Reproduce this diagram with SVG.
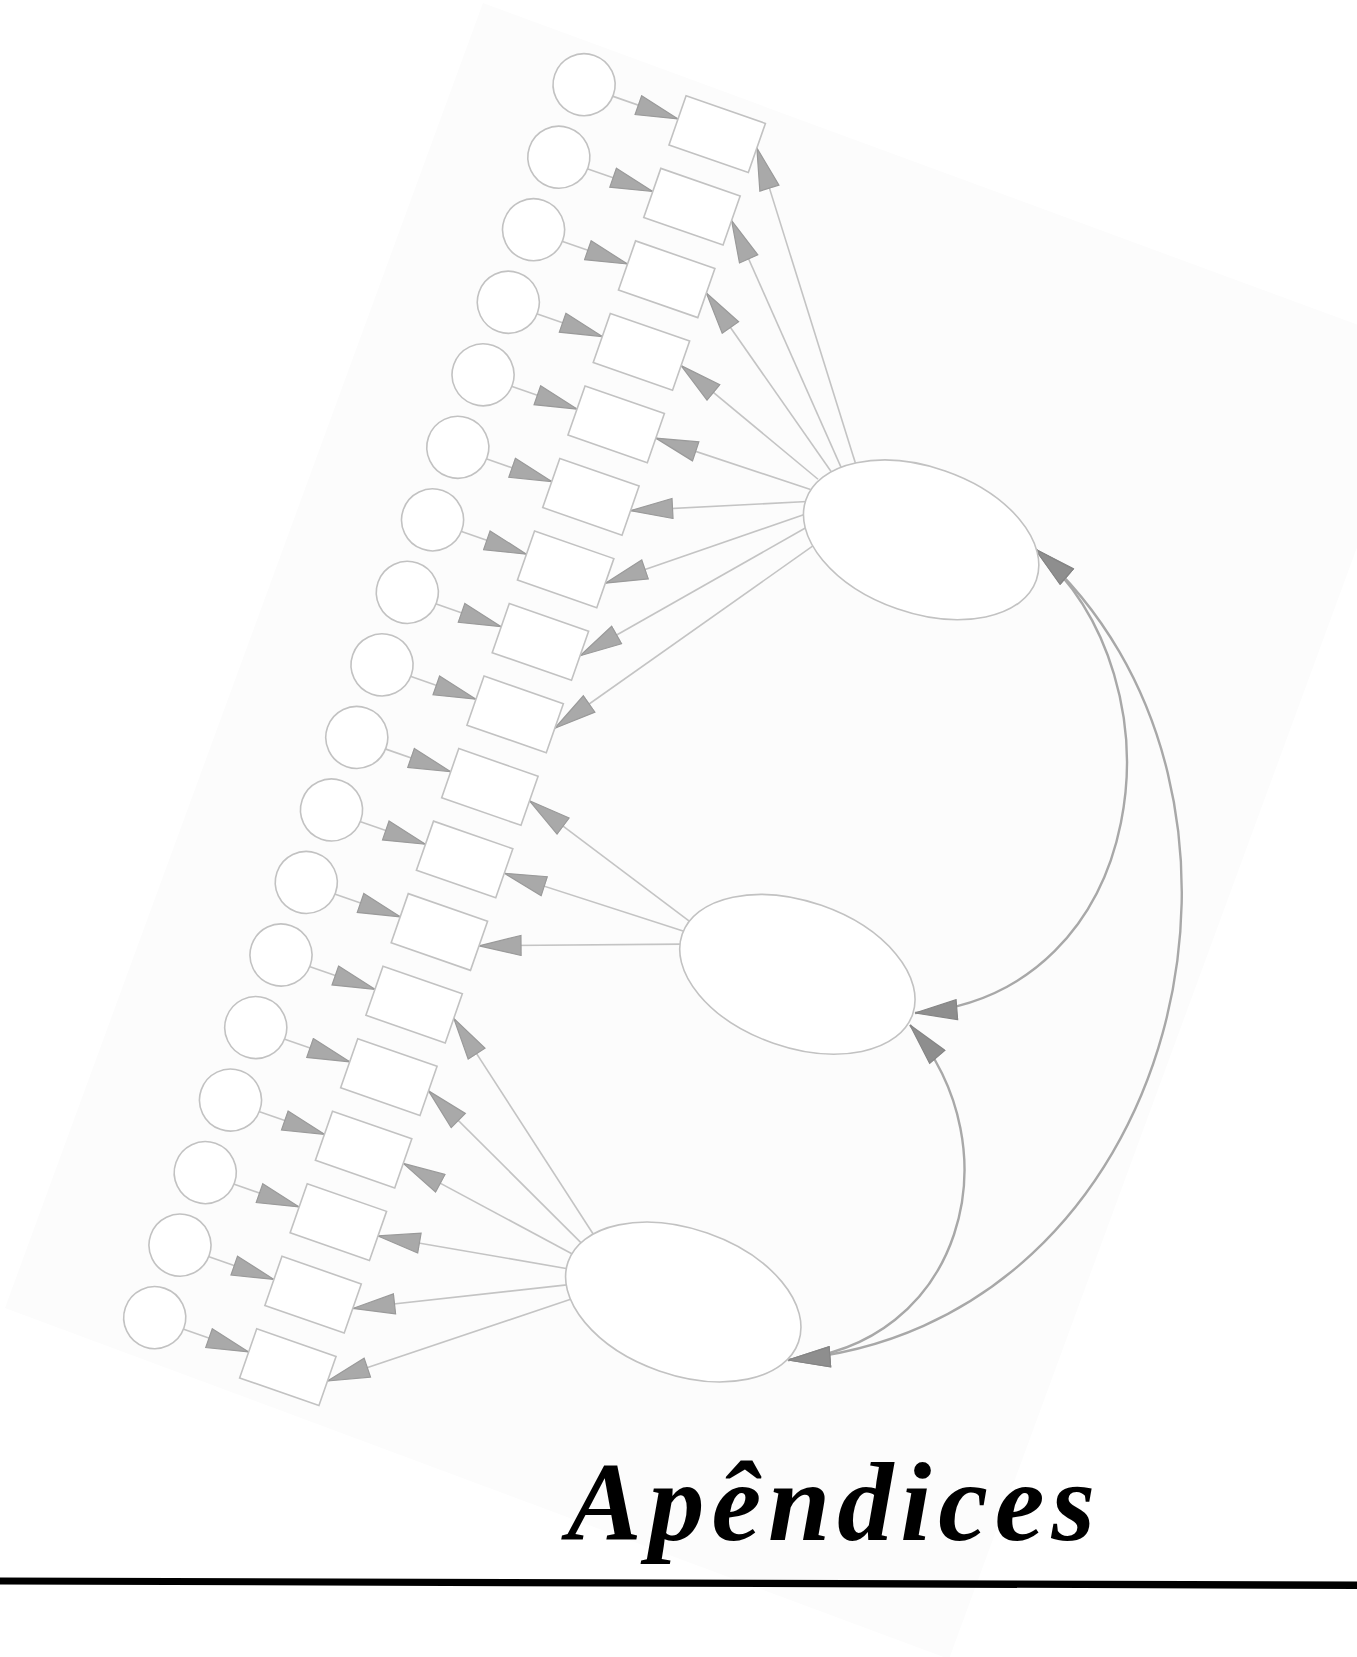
<svg xmlns="http://www.w3.org/2000/svg" width="1357" height="1657" viewBox="0 0 1357 1657">
<defs>
<style>
.node{fill:#fff;stroke:#c2c2c2;stroke-width:1.6}
.ln{fill:none;stroke:#c4c4c4;stroke-width:1.6;marker-end:url(#ah)}
.cv{fill:none;stroke:#a8a8a8;stroke-width:2.4;marker-start:url(#ah2);marker-end:url(#ah2)}
.title{font-family:"Liberation Serif","DejaVu Serif",serif;font-style:italic;font-weight:bold;font-size:112px;fill:#000}
</style>
<marker id="ah" viewBox="0 0 44 22" refX="43" refY="11" markerWidth="44" markerHeight="22" markerUnits="userSpaceOnUse" orient="auto-start-reverse">
<path d="M1,1 L43,11 L1,21 Z" fill="#a9a9a9" stroke="#9a9a9a" stroke-width="1.2"/>
</marker>
<marker id="ah2" viewBox="0 0 44 22" refX="43" refY="11" markerWidth="44" markerHeight="22" markerUnits="userSpaceOnUse" orient="auto-start-reverse">
<path d="M1,1 L43,11 L1,21 Z" fill="#8e8e8e" stroke="#858585" stroke-width="1.2"/>
</marker>
</defs>
<rect x="0" y="0" width="1357" height="1657" fill="#fff"/>
<polygon points="483,3 1429,351 949,1659 5,1308" fill="#fcfcfc"/>

<g id="connectors">
<g transform="translate(717.2,134.2) rotate(19.2)">
<line class="ln" x1="-113" y1="-1.5" x2="-42" y2="-1.5"/>
<line class="ln" x1="-113" y1="75.3" x2="-42" y2="75.3"/>
<line class="ln" x1="-113" y1="152.1" x2="-42" y2="152.1"/>
<line class="ln" x1="-113" y1="228.9" x2="-42" y2="228.9"/>
<line class="ln" x1="-113" y1="305.7" x2="-42" y2="305.7"/>
<line class="ln" x1="-113" y1="382.5" x2="-42" y2="382.5"/>
<line class="ln" x1="-113" y1="459.3" x2="-42" y2="459.3"/>
<line class="ln" x1="-113" y1="536.1" x2="-42" y2="536.1"/>
<line class="ln" x1="-113" y1="612.9" x2="-42" y2="612.9"/>
<line class="ln" x1="-113" y1="689.7" x2="-42" y2="689.7"/>
<line class="ln" x1="-113" y1="766.5" x2="-42" y2="766.5"/>
<line class="ln" x1="-113" y1="843.3" x2="-42" y2="843.3"/>
<line class="ln" x1="-113" y1="920.1" x2="-42" y2="920.1"/>
<line class="ln" x1="-113" y1="996.9" x2="-42" y2="996.9"/>
<line class="ln" x1="-113" y1="1073.7" x2="-42" y2="1073.7"/>
<line class="ln" x1="-113" y1="1150.5" x2="-42" y2="1150.5"/>
<line class="ln" x1="-113" y1="1227.3" x2="-42" y2="1227.3"/>
<line class="ln" x1="-113" y1="1304.1" x2="-42" y2="1304.1"/>

<line class="ln" x1="240.2" y1="267.2" x2="42" y2="0"/>
<line class="ln" x1="227.5" y1="274.9" x2="42" y2="76.8"/>
<line class="ln" x1="220.2" y1="282.3" x2="42" y2="153.6"/>
<line class="ln" x1="208.7" y1="292.7" x2="42" y2="230.4"/>
<line class="ln" x1="205" y1="304.9" x2="42" y2="307.2"/>
<line class="ln" x1="205.9" y1="317.3" x2="42" y2="384"/>
<line class="ln" x1="209.1" y1="329" x2="42" y2="460.8"/>
<line class="ln" x1="215.1" y1="340.3" x2="42" y2="537.6"/>
<line class="ln" x1="227.3" y1="355.2" x2="42" y2="614.4"/>

<line class="ln" x1="233.2" y1="752.6" x2="42" y2="691.2"/>
<line class="ln" x1="230.6" y1="763.7" x2="42" y2="768"/>
<line class="ln" x1="233.4" y1="776.3" x2="42" y2="844.8"/>

<line class="ln" x1="245.7" y1="1080.3" x2="42" y2="921.6"/>
<line class="ln" x1="236.1" y1="1091.7" x2="42" y2="998.4"/>
<line class="ln" x1="230.9" y1="1105" x2="42" y2="1075.2"/>
<line class="ln" x1="233.2" y1="1120.4" x2="42" y2="1152"/>
<line class="ln" x1="238.4" y1="1135.2" x2="42" y2="1228.8"/>
<line class="ln" x1="246" y1="1147.5" x2="42" y2="1305.6"/>
</g>
<path id="cov12" class="cv" d="M1035,549 C1188,680 1151,994 915,1013"/>
<path id="cov13" class="cv" d="M1035,549 C1309,790 1184,1328 788,1360"/>
<path id="cov23" class="cv" d="M910,1025 C1017,1150 961,1347 788,1360"/>
</g>

<g id="nodes" transform="translate(717.2,134.2) rotate(19.2)">
<g id="e1"><circle class="node" cx="-142" cy="-3" r="31"/></g>
<g id="e2"><circle class="node" cx="-142" cy="73.8" r="31"/></g>
<g id="e3"><circle class="node" cx="-142" cy="150.6" r="31"/></g>
<g id="e4"><circle class="node" cx="-142" cy="227.4" r="31"/></g>
<g id="e5"><circle class="node" cx="-142" cy="304.2" r="31"/></g>
<g id="e6"><circle class="node" cx="-142" cy="381" r="31"/></g>
<g id="e7"><circle class="node" cx="-142" cy="457.8" r="31"/></g>
<g id="e8"><circle class="node" cx="-142" cy="534.6" r="31"/></g>
<g id="e9"><circle class="node" cx="-142" cy="611.4" r="31"/></g>
<g id="e10"><circle class="node" cx="-142" cy="688.2" r="31"/></g>
<g id="e11"><circle class="node" cx="-142" cy="765" r="31"/></g>
<g id="e12"><circle class="node" cx="-142" cy="841.8" r="31"/></g>
<g id="e13"><circle class="node" cx="-142" cy="918.6" r="31"/></g>
<g id="e14"><circle class="node" cx="-142" cy="995.4" r="31"/></g>
<g id="e15"><circle class="node" cx="-142" cy="1072.2" r="31"/></g>
<g id="e16"><circle class="node" cx="-142" cy="1149" r="31"/></g>
<g id="e17"><circle class="node" cx="-142" cy="1225.8" r="31"/></g>
<g id="e18"><circle class="node" cx="-142" cy="1302.6" r="31"/></g>

<g id="v1"><rect class="node" x="-42" y="-26" width="84" height="52"/></g>
<g id="v2"><rect class="node" x="-42" y="50.8" width="84" height="52"/></g>
<g id="v3"><rect class="node" x="-42" y="127.6" width="84" height="52"/></g>
<g id="v4"><rect class="node" x="-42" y="204.4" width="84" height="52"/></g>
<g id="v5"><rect class="node" x="-42" y="281.2" width="84" height="52"/></g>
<g id="v6"><rect class="node" x="-42" y="358" width="84" height="52"/></g>
<g id="v7"><rect class="node" x="-42" y="434.8" width="84" height="52"/></g>
<g id="v8"><rect class="node" x="-42" y="511.6" width="84" height="52"/></g>
<g id="v9"><rect class="node" x="-42" y="588.4" width="84" height="52"/></g>
<g id="v10"><rect class="node" x="-42" y="665.2" width="84" height="52"/></g>
<g id="v11"><rect class="node" x="-42" y="742" width="84" height="52"/></g>
<g id="v12"><rect class="node" x="-42" y="818.8" width="84" height="52"/></g>
<g id="v13"><rect class="node" x="-42" y="895.6" width="84" height="52"/></g>
<g id="v14"><rect class="node" x="-42" y="972.4" width="84" height="52"/></g>
<g id="v15"><rect class="node" x="-42" y="1049.2" width="84" height="52"/></g>
<g id="v16"><rect class="node" x="-42" y="1126" width="84" height="52"/></g>
<g id="v17"><rect class="node" x="-42" y="1202.8" width="84" height="52"/></g>
<g id="v18"><rect class="node" x="-42" y="1279.6" width="84" height="52"/></g>

<g id="F1"><ellipse class="node" cx="326" cy="316" rx="122" ry="73"/></g>
<g id="F2"><ellipse class="node" cx="352" cy="767" rx="122" ry="73"/></g>
<g id="F3"><ellipse class="node" cx="352" cy="1114" rx="122" ry="73"/></g>
</g>

<g id="footer">
<text class="title" x="567" y="1540" textLength="528" lengthAdjust="spacing">Apêndices</text>
<polygon points="0,1577.5 1357,1581.5 1357,1589 0,1584.5" fill="#000"/>
</g>
</svg>
